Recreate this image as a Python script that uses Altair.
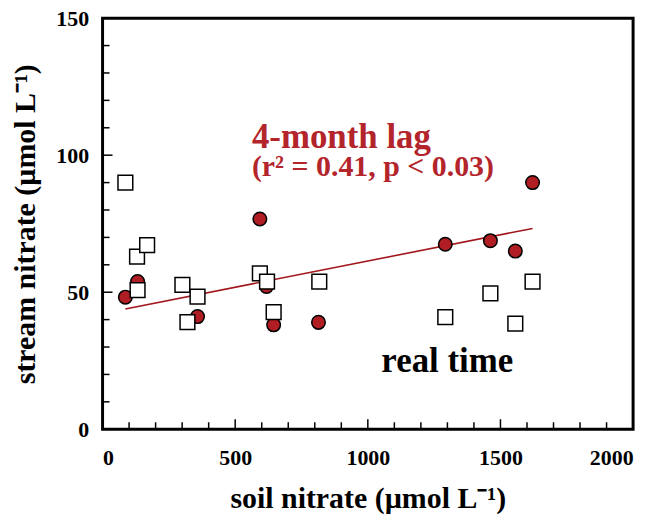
import altair as alt
import pandas as pd

# "real time" series (open squares)
rt_x = [86, 130, 168, 132, 301, 358, 320, 593, 620, 645, 817, 1292, 1462, 1556, 1621]
rt_y = [90.0, 63.0, 67.2, 50.8, 52.7, 48.4, 39.1, 56.9, 53.9, 42.7, 53.9, 40.9, 49.6, 38.5, 53.9]

# "4-month lag" series (filled circles)
lag_x = [86, 132, 358, 593, 618, 645, 814, 1292, 1462, 1556, 1621]
lag_y = [48.2, 53.9, 41.1, 76.7, 52.1, 38.1, 39.0, 67.5, 68.8, 65.0, 90.0]

x_tick_labels = [0, 500, 1000, 1500, 2000]
y_tick_labels = [0, 50, 100, 150]
x_minor = [v for v in range(100, 2000, 100) if v % 500 != 0]
x_major = [500, 1000, 1500]
y_minor = [v for v in range(10, 150, 10) if v % 50 != 0]
y_major = [50, 100]

lag_title = ["4-month lag"]
lag_stats = ["(r\u00b2 = 0.41, p < 0.03)"]
rt_label = ["real time"]
lag_title_pos = [563, 102.7]
lag_stats_pos = [563, 92.4]
rt_label_pos = [1051, 20.9]

RED = "#b01e24"
TEXT_RED = "#b3242b"
LINE_RED = "#a3161b"
FONT = "Liberation Serif"
W, H = 533, 413

xs = alt.Scale(domain=[0, 2000], nice=False, zero=False)
ys = alt.Scale(domain=[0, 150], nice=False, zero=False)

rt_df = pd.DataFrame({"x": rt_x, "y": rt_y})
lag_df = pd.DataFrame({"x": lag_x, "y": lag_y})

xaxis = alt.Axis(values=x_tick_labels, format="d", ticks=False, domain=False, grid=False,
                 labelFont=FONT, labelFontWeight="bold", labelFontSize=22,
                 labelColor="black", labelPadding=18,
                 title="soil nitrate (\u00b5mol L\u207b\u00b9)", titleFont=FONT,
                 titleFontWeight="bold", titleFontSize=30, titleColor="black",
                 titlePadding=16)
yaxis = alt.Axis(values=y_tick_labels, format="d", ticks=False, domain=False, grid=False,
                 labelFont=FONT, labelFontWeight="bold", labelFontSize=22,
                 labelColor="black", labelPadding=14,
                 title="stream nitrate (\u00b5mol L\u207b\u00b9)", titleFont=FONT,
                 titleFontWeight="bold", titleFontSize=30, titleColor="black",
                 titlePadding=15)

base_lag = alt.Chart(lag_df)

reg = base_lag.transform_regression("x", "y").mark_line(
    color=LINE_RED, strokeWidth=1.6
).encode(x=alt.X("x:Q", scale=xs, axis=xaxis), y=alt.Y("y:Q", scale=ys, axis=yaxis))

circles = base_lag.mark_point(
    shape="circle", filled=True, fill=RED, stroke="black", strokeWidth=1.5,
    size=185, opacity=1
).encode(x=alt.X("x:Q", scale=xs), y=alt.Y("y:Q", scale=ys))

squares = alt.Chart(rt_df).mark_point(
    shape="square", filled=True, fill="white", stroke="black", strokeWidth=1.5,
    size=220, opacity=1
).encode(x=alt.X("x:Q", scale=xs), y=alt.Y("y:Q", scale=ys))


def xticks(vals, length):
    return alt.Chart(pd.DataFrame({"v": vals})).mark_rule(
        color="black", strokeWidth=1.5
    ).encode(x=alt.X("v:Q", scale=xs), y=alt.value(H), y2=alt.value(H - length))


def yticks(vals, length):
    return alt.Chart(pd.DataFrame({"v": vals})).mark_rule(
        color="black", strokeWidth=1.5
    ).encode(y=alt.Y("v:Q", scale=ys), x=alt.value(0), x2=alt.value(length))


def label(text, pos, size, color):
    df = pd.DataFrame({"t": text, "x": [pos[0]], "y": [pos[1]]})
    return alt.Chart(df).mark_text(
        align="left", baseline="alphabetic", font=FONT, fontWeight="bold",
        fontSize=size, color=color
    ).encode(x=alt.X("x:Q", scale=xs), y=alt.Y("y:Q", scale=ys), text="t:N")


chart = alt.layer(
    xticks(x_minor, 7), xticks(x_major, 10), yticks(y_minor, 7), yticks(y_major, 10),
    reg, circles, squares,
    label(lag_title, lag_title_pos, 35, TEXT_RED),
    label(lag_stats, lag_stats_pos, 30, TEXT_RED),
    label(rt_label, rt_label_pos, 35, "black"),
).properties(
    width=W, height=H,
    autosize=alt.AutoSizeParams(type="none"),
    padding={"left": 95, "top": 9, "right": 20, "bottom": 94},
).configure(
    background="white",
    view=alt.ViewConfig(stroke="black", strokeWidth=3),
)

chart.save("out.html", embed_options={"renderer": "svg", "actions": False})
